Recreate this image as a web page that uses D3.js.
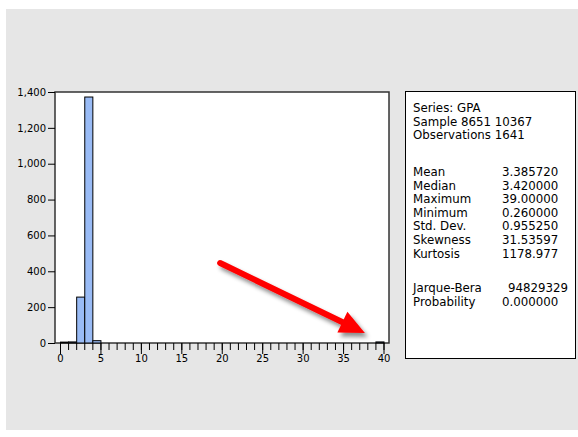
<!DOCTYPE html>
<html>
<head>
<meta charset="utf-8">
<script src="https://cdn.jsdelivr.net/npm/d3@7"></script>
<style>
  html, body { margin: 0; padding: 0; background: #ffffff; }
  svg { display: block; }
  text { font-family: "DejaVu Sans", sans-serif; fill: #000; }
</style>
</head>
<body>
<svg id="chart" width="578" height="437"></svg>
<script>
// ---- data ----
const binStarts = [0, 1, 2, 3, 4, 39];
const binCounts = [5, 6, 256, 1372, 13, 6];
const binWidth = 1;
const yTicks = [0, 200, 400, 600, 800, 1000, 1200, 1400];
const xMajorTicks = [0, 5, 10, 15, 20, 25, 30, 35, 40];
const xMinorTicks = d3.range(0, 41, 1);
const headerLines = ["Series: GPA", "Sample 8651 10367", "Observations 1641"];
const statLabels = ["Mean", "Median", "Maximum", "Minimum", "Std. Dev.", "Skewness", "Kurtosis"];
const statValues = ["3.385720", "3.420000", "39.00000", "0.260000", "0.955250", "31.53597", "1178.977"];
const testLabels = ["Jarque-Bera", "Probability"];
const testValues = ["94829329", "0.000000"];
// annotation arrow in data coordinates: [x, count]
const arrowFrom = [19.8, 446];
const arrowTo = [37.7, 56];

// ---- layout ----
const svg = d3.select("#chart");
const frame = { left: 55, right: 389, top: 92, bottom: 343 };

svg.append("rect").attr("x", 6).attr("y", 9).attr("width", 572).attr("height", 421)
  .attr("fill", "#e6e6e6");

const x = d3.scaleLinear().domain([0, 40]).range([60, 383.5]);
const y = d3.scaleLinear().domain([0, 1400]).range([343, 92]);

// plot frame
svg.append("rect")
  .attr("x", frame.left).attr("y", frame.top)
  .attr("width", frame.right - frame.left).attr("height", frame.bottom - frame.top)
  .attr("fill", "#ffffff").attr("stroke", "#333").attr("stroke-width", 1.5);

// bars
const bins = binStarts.map((s, i) => ({ x0: s, x1: s + binWidth, n: binCounts[i] }));
svg.append("g").selectAll("rect").data(bins).join("rect")
  .attr("x", d => x(d.x0) + 0.5)
  .attr("y", d => y(d.n))
  .attr("width", d => x(d.x1) - x(d.x0))
  .attr("height", d => y(0) - y(d.n))
  .attr("fill", "#99bbf5")
  .attr("stroke", "#000").attr("stroke-width", 1);

// y axis
const yAxis = d3.axisLeft(y).tickValues(yTicks).tickFormat(d3.format(",")).tickSize(7).tickPadding(2);
const gy = svg.append("g").attr("transform", `translate(${frame.left},0)`).call(yAxis);
gy.select(".domain").remove();
gy.selectAll("text").style("font-family", "DejaVu Sans").style("font-size", "10px");

// x axis minor + major
const gxMinor = svg.append("g").attr("transform", `translate(0,${frame.bottom})`)
  .call(d3.axisBottom(x).tickValues(xMinorTicks).tickSize(7).tickFormat(""));
gxMinor.select(".domain").remove();
const gx = svg.append("g").attr("transform", `translate(0,${frame.bottom})`)
  .call(d3.axisBottom(x).tickValues(xMajorTicks).tickSize(11).tickPadding(1));
gx.select(".domain").remove();
gx.selectAll("text").style("font-family", "DejaVu Sans").style("font-size", "10px");
svg.selectAll(".tick line").attr("stroke", "#000");

// arrow annotation with shadow
const defs = svg.append("defs");
const f = defs.append("filter").attr("id", "shadow").attr("x", "-20%").attr("y", "-20%")
  .attr("width", "150%").attr("height", "160%");
f.append("feDropShadow").attr("dx", 3).attr("dy", 4).attr("stdDeviation", 2.2)
  .attr("flood-color", "#000").attr("flood-opacity", 0.45);

const p0 = [x(arrowFrom[0]), y(arrowFrom[1])];
const p1 = [x(arrowTo[0]), y(arrowTo[1])];
const ang = Math.atan2(p1[1] - p0[1], p1[0] - p0[0]);
const headLen = 25, headHalf = 11.5;
const bx = p1[0] - headLen * Math.cos(ang), by = p1[1] - headLen * Math.sin(ang);
const nx = -Math.sin(ang), ny = Math.cos(ang);
const ga = svg.append("g").attr("filter", "url(#shadow)");
ga.append("line")
  .attr("x1", p0[0]).attr("y1", p0[1]).attr("x2", bx + 2 * Math.cos(ang)).attr("y2", by + 2 * Math.sin(ang))
  .attr("stroke", "#ff0000").attr("stroke-width", 6).attr("stroke-linecap", "round");
ga.append("path")
  .attr("d", `M${p1[0]},${p1[1]} L${bx + nx * headHalf},${by + ny * headHalf} L${bx - nx * headHalf},${by - ny * headHalf} Z`)
  .attr("fill", "#ff0000");

// stats box
svg.append("rect").attr("x", 405.5).attr("y", 91.5).attr("width", 170).attr("height", 267)
  .attr("fill", "#ffffff").attr("stroke", "#000").attr("stroke-width", 1);

const fs = "11.8px";
const tb = svg.append("g").style("font-size", fs);
tb.selectAll("text.h").data(headerLines).join("text").attr("class", "h")
  .attr("x", 413).attr("y", (d, i) => 112 + i * 13.6).text(d => d);
tb.selectAll("text.sl").data(statLabels).join("text").attr("class", "sl")
  .attr("x", 413).attr("y", (d, i) => 176 + i * 13.6).text(d => d);
tb.selectAll("text.sv").data(statValues).join("text").attr("class", "sv")
  .attr("x", 502).attr("y", (d, i) => 176 + i * 13.6).text(d => d);
tb.selectAll("text.tl").data(testLabels).join("text").attr("class", "tl")
  .attr("x", 413).attr("y", (d, i) => 292 + i * 13.6).text(d => d);
tb.selectAll("text.tv").data(testValues).join("text").attr("class", "tv")
  .attr("x", (d, i) => i === 0 ? 508 : 502).attr("y", (d, i) => 292 + i * 13.6).text(d => d);
</script>
</body>
</html>
